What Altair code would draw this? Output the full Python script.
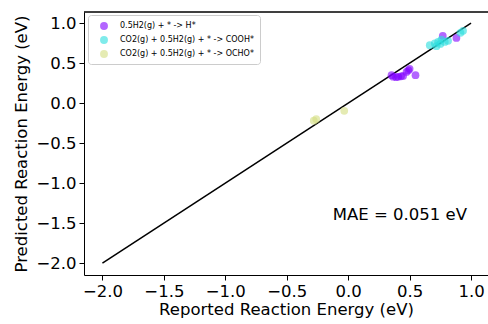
import altair as alt
import pandas as pd

categories = ["0.5H2(g) + * -> H*", "CO2(g) + 0.5H2(g) + * -> COOH*", "CO2(g) + 0.5H2(g) + * -> OCHO*"]
colors = ["#8000ff", "#2adddd", "#d4dd80"]

h_x = [0.353, 0.366, 0.39, 0.407, 0.43, 0.447, 0.475, 0.50, 0.49, 0.548, 0.77, 0.881]
h_y = [0.35, 0.33, 0.325, 0.33, 0.335, 0.34, 0.39, 0.43, 0.41, 0.35, 0.84, 0.816]
cooh_x = [0.664, 0.705, 0.719, 0.732, 0.759, 0.786, 0.813, 0.75, 0.914, 0.935]
cooh_y = [0.725, 0.746, 0.7125, 0.766, 0.796, 0.766, 0.779, 0.74, 0.879, 0.904]
ocho_x = [-0.28, -0.26, -0.032]
ocho_y = [-0.22, -0.20, -0.096]

line_x = [-2.0, 1.0]
line_y = [-2.0, 1.0]

ticks = [-2.0, -1.5, -1.0, -0.5, 0.0, 0.5, 1.0]
mae_text = "MAE = 0.051 eV"

rows = []
for cat, xs, ys in zip(categories, [h_x, cooh_x, ocho_x], [h_y, cooh_y, ocho_y]):
    for a, b in zip(xs, ys):
        rows.append({"x": a, "y": b, "reaction": cat})
pts = pd.DataFrame(rows)
line_df = pd.DataFrame({"x": line_x, "y": line_y})
txt_df = pd.DataFrame({"x": [-0.125], "y": [-1.462], "t": [mae_text]})

xs = alt.Scale(domain=[-2.15, 1.138], nice=False, zero=False)
ys = alt.Scale(domain=[-2.15, 1.14], nice=False, zero=False)
xax = alt.Axis(values=ticks, format=".1f", title="Reported Reaction Energy (eV)")
yax = alt.Axis(values=ticks, format=".1f", title="Predicted Reaction Energy (eV)")

scatter = alt.Chart(pts).mark_circle(size=60, opacity=0.6).encode(
    x=alt.X("x:Q", scale=xs, axis=xax),
    y=alt.Y("y:Q", scale=ys, axis=yax),
    color=alt.Color("reaction:N", sort=categories,
                    scale=alt.Scale(domain=categories, range=colors),
                    legend=alt.Legend(title=None, orient="none", legendX=4, legendY=3,
                                      labelFontSize=8, labelLimit=400,
                                      symbolSize=62, symbolOpacity=0.6, symbolType="circle",
                                      symbolOffset=5, labelOffset=11, rowPadding=5,
                                      padding=6, strokeColor="#cccccc", fillColor="white",
                                      cornerRadius=3)),
)

line = alt.Chart(line_df).mark_line(color="black", strokeWidth=1.5).encode(
    x=alt.X("x:Q", scale=xs), y=alt.Y("y:Q", scale=ys)
)

text = alt.Chart(txt_df).mark_text(align="left", baseline="alphabetic", fontSize=16.5,
                                   font="DejaVu Sans", color="black").encode(
    x=alt.X("x:Q", scale=xs), y=alt.Y("y:Q", scale=ys), text="t:N"
)

topline = alt.Chart(line_df).mark_rule(color="black", strokeWidth=1).encode(y=alt.value(0))

chart = alt.layer(line, scatter, text, topline).properties(
    width=404, height=263,
    padding={"left": 84, "top": 12, "right": 0, "bottom": 49},
    autosize=alt.AutoSizeParams(type="none"),
).configure_view(stroke=None).configure_axis(
    grid=False, domainColor="black", domainWidth=1, tickColor="black", tickSize=5,
    labelColor="black", labelFont="DejaVu Sans", labelFontSize=16.5, labelPadding=3,
    titleFont="DejaVu Sans", titleFontSize=16.5, titleFontWeight="normal", titleColor="black",
).configure_axisX(titlePadding=2).configure_axisY(titlePadding=6).configure_legend(
    labelFont="DejaVu Sans", labelColor="black"
)

chart.save("out.html", embed_options={"renderer": "svg", "actions": False})
